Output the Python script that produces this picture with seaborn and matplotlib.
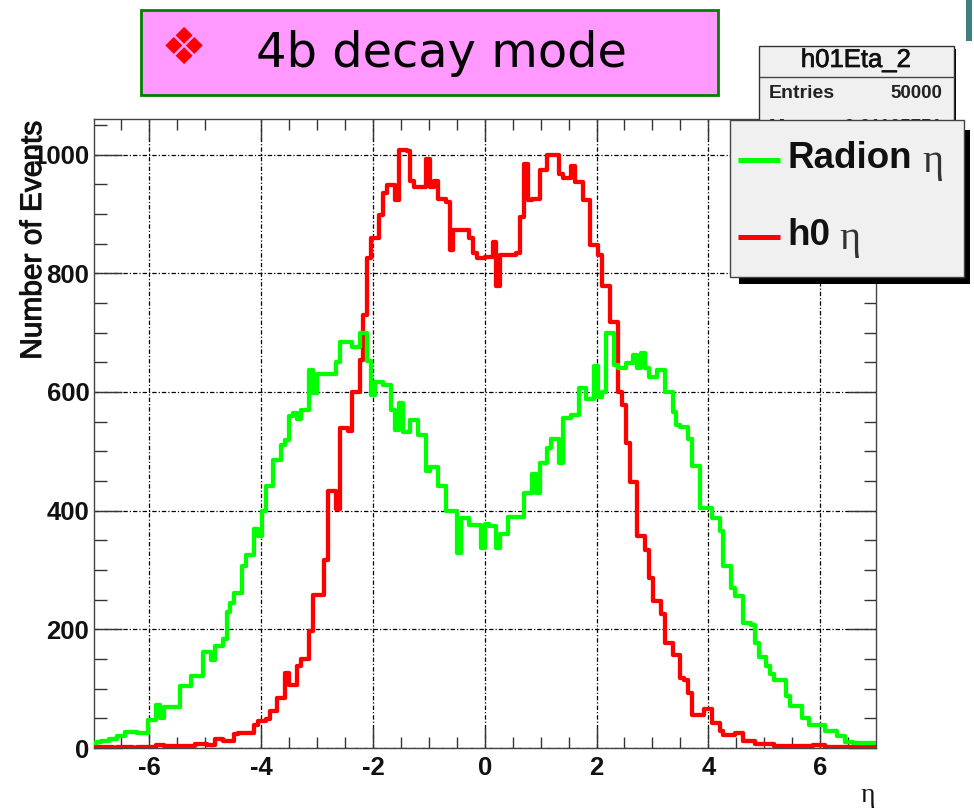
import numpy as np
import matplotlib
matplotlib.use("Agg")
import matplotlib.pyplot as plt
import matplotlib.patheffects as pe
from matplotlib.patches import Rectangle
from matplotlib.lines import Line2D
import seaborn as sns

sns.set_style("white")
plt.rcParams['font.family'] = ['Liberation Sans', 'DejaVu Sans']
plt.rcParams['axes.unicode_minus'] = False

radion_counts = [
    9,10,11,12,16,16,20,20,27,27,
    27,26,25,26,48,48,73,50,69,69,
    69,69,105,105,105,122,122,122,161,161,
    148,172,172,184,230,244,262,262,306,326,
    326,369,357,400,441,441,486,486,511,519,
    560,565,555,570,570,637,598,631,631,631,
    631,631,651,685,685,684,676,676,700,700,
    653,595,617,617,611,611,570,536,582,533,
    533,553,553,528,528,466,473,473,441,441,
    400,400,400,329,388,388,376,376,376,337,
    378,374,374,337,360,360,389,389,389,389,
    430,430,461,430,480,480,506,520,520,480,
    556,556,561,561,606,606,588,588,644,592,
    600,700,700,645,640,640,648,648,662,640,
    665,640,626,626,637,637,600,600,567,544,
    541,541,520,475,475,404,404,404,388,388,
    365,306,306,270,256,256,211,211,208,177,
    154,154,138,124,115,115,115,87,70,70,
    70,51,51,39,39,39,39,28,28,28,
    20,20,10,10,8,8,8,8,8,8]
h0_counts = [
    1,1,1,1,1,0,1,1,1,1,
    0,1,1,2,1,2,5,5,4,4,
    4,4,4,4,4,4,7,7,7,5,
    5,15,15,11,11,11,24,26,26,26,
    26,38,45,45,49,63,63,84,84,126,
    107,107,138,150,150,197,257,257,257,317,
    433,433,402,539,539,535,600,600,654,730,
    825,859,859,898,935,949,949,924,1008,1008,
    1006,955,946,946,946,992,946,955,925,925,
    920,839,873,873,873,873,859,834,825,825,
    828,828,853,778,831,831,831,831,834,895,
    985,924,926,926,974,974,999,999,999,968,
    960,960,980,954,954,924,924,848,848,831,
    778,778,718,718,600,578,514,449,449,357,
    357,334,287,247,247,225,177,177,157,157,
    118,115,93,56,56,56,65,65,42,42,
    28,22,22,22,25,25,11,11,11,7,
    7,7,7,7,4,4,4,4,4,4,
    4,3,3,3,5,5,5,1,1,1,
    1,1,1,1,1,1,1,1,1,1]
assert len(radion_counts) == 200 and len(h0_counts) == 200

x_ticks = [-6, -4, -2, 0, 2, 4, 6]
x_minor = [-6.5, -5.5, -5, -3.5, -3, -2.5, -1.5, -1, -0.5, 0.5, 1, 1.5, 2.5, 3, 3.5, 4.5, 5, 5.5, 6.5]
y_ticks = [0, 200, 400, 600, 800, 1000]
y_minor = [50, 100, 150, 250, 300, 350, 450, 500, 550, 650, 700, 750, 850, 900, 950, 1050]
series_names = ['Radion', 'h0']
series_colors = ['#00FF00', '#FF0000']
header_text = '4b decay mode'
stats_title = 'h01Eta_2'
stats_entries = '50000'

W, H = 974, 809
fig = plt.figure(figsize=(W / 100, H / 100), dpi=100, facecolor='white')
ax = fig.add_axes([93.5 / W, (H - 748) / H, (876 - 93.5) / W, (748 - 119) / H])

edges = np.linspace(-7, 7, 201)
centers = (edges[:-1] + edges[1:]) / 2
for counts, color, z in [(h0_counts, series_colors[1], 3), (radion_counts, series_colors[0], 4)]:
    sns.histplot(x=centers, weights=counts, bins=list(edges), element='step', fill=False,
                 color=color, linewidth=3.1, ax=ax, zorder=z, clip_on=True)

ax.set_xlim(-7, 7)
ax.set_ylim(0, 1060)
ax.set_xticks(x_ticks)
ax.set_xticks(x_minor, minor=True)
ax.set_yticks(y_ticks)
ax.set_yticks(y_minor, minor=True)
ax.set_xlabel('')
ax.set_ylabel('')
ax.grid(True, which='major', color='black', linewidth=0.9, linestyle=(0, (3.5, 1.6, 1, 1.6)), zorder=1)
ax.set_axisbelow(True)
for s in ax.spines.values():
    s.set_color('#444444')
    s.set_linewidth(1.0)
ax.tick_params(axis='x', which='major', direction='in', length=15, width=1.0, color='#333333',
               top=True, bottom=True, pad=6)
ax.tick_params(axis='x', which='minor', direction='in', length=8, width=1.0, color='#333333',
               top=True, bottom=True)
ax.tick_params(axis='y', which='major', direction='in', length=20, width=1.0, color='#333333',
               left=True, right=True, pad=3)
ax.tick_params(axis='y', which='minor', direction='in', length=9, width=1.0, color='#333333',
               left=True, right=True)
for lab in ax.get_xticklabels() + ax.get_yticklabels():
    lab.set_fontsize(18.5)
    lab.set_fontweight('bold')
    lab.set_color('#111111')

# overlay in image pixel coordinates for the annotation boxes
ov = fig.add_axes([0, 0, 1, 1], facecolor='none')
ov.set_xlim(0, W)
ov.set_ylim(H, 0)
ov.axis('off')


def box(x0, y0, x1, y1, **kw):
    ov.add_patch(Rectangle((x0, y0), x1 - x0, y1 - y0, **kw))


ov.text(33, 240, 'Number of Events', rotation=90, ha='center', va='center', fontsize=21.5, color='#111111',
        path_effects=[pe.withStroke(linewidth=0.7, foreground='#111111')])
ov.text(868, 795, '\u03b7', family='Liberation Serif', fontsize=20, ha='center', va='center', color='#111111')

# header
box(140.5, 9.5, 718, 95, facecolor='#FF99FF', edgecolor='#008000', linewidth=2.0, zorder=2)
ov.text(184, 50, '\u2756', family='DejaVu Sans', color='#FF0000', fontsize=37, ha='center', va='center', zorder=3)
ov.text(441, 53, header_text, family='DejaVu Sans', color='black', fontsize=34.5, ha='center', va='center', zorder=3)

# teal mark
box(966, 0, 972, 41, facecolor='#3F7F7F', edgecolor='none', zorder=2)

# statistics box
box(762, 49, 956, 125, facecolor='black', edgecolor='none', zorder=5)
box(759, 45.5, 954, 125, facecolor='#F0F0F0', edgecolor='#333333', linewidth=1.0, zorder=6)
ov.plot([759, 954], [77, 77], color='#444444', linewidth=1.0, zorder=7)
ov.text(856, 60, stats_title, fontsize=18.5, ha='center', va='center', color='#111111', zorder=7,
        path_effects=[pe.withStroke(linewidth=0.5, foreground='#111111')])
ov.text(769, 93, 'Entries', fontsize=14, fontweight='bold', ha='left', va='center', color='#222222', zorder=7)
ov.text(942, 93, stats_entries, fontsize=13.5, fontweight='bold', ha='right', va='center', color='#222222', zorder=7)
ov.text(769, 127, 'Mean', fontsize=14, fontweight='bold', ha='left', va='center', color='#222222', zorder=7)
ov.text(942, 127, '-0.01105751', fontsize=13.5, fontweight='bold', ha='right', va='center', color='#222222', zorder=7)

# legend box
box(739, 130, 970, 284, facecolor='black', edgecolor='none', zorder=8)
box(729.5, 120, 964, 277, facecolor='#F0F0F0', edgecolor='#444444', linewidth=1.0, zorder=9)
for name, color, ly, ex in [(series_names[0], series_colors[0], 160, 933),
                            (series_names[1], series_colors[1], 237, 850)]:
    ov.add_line(Line2D([738, 780], [ly, ly], color=color, linewidth=3.6, zorder=10, solid_capstyle='butt'))
    ov.text(787, ly - 2, name, fontsize=26.5, fontweight='bold', ha='left', va='center', color='#111111', zorder=10)
    ov.text(ex, ly + 2, '\u03b7', family='Liberation Serif', fontsize=29, ha='center', va='center', color='#333333', zorder=10)

fig.savefig('out.png', dpi=100, facecolor='white')
